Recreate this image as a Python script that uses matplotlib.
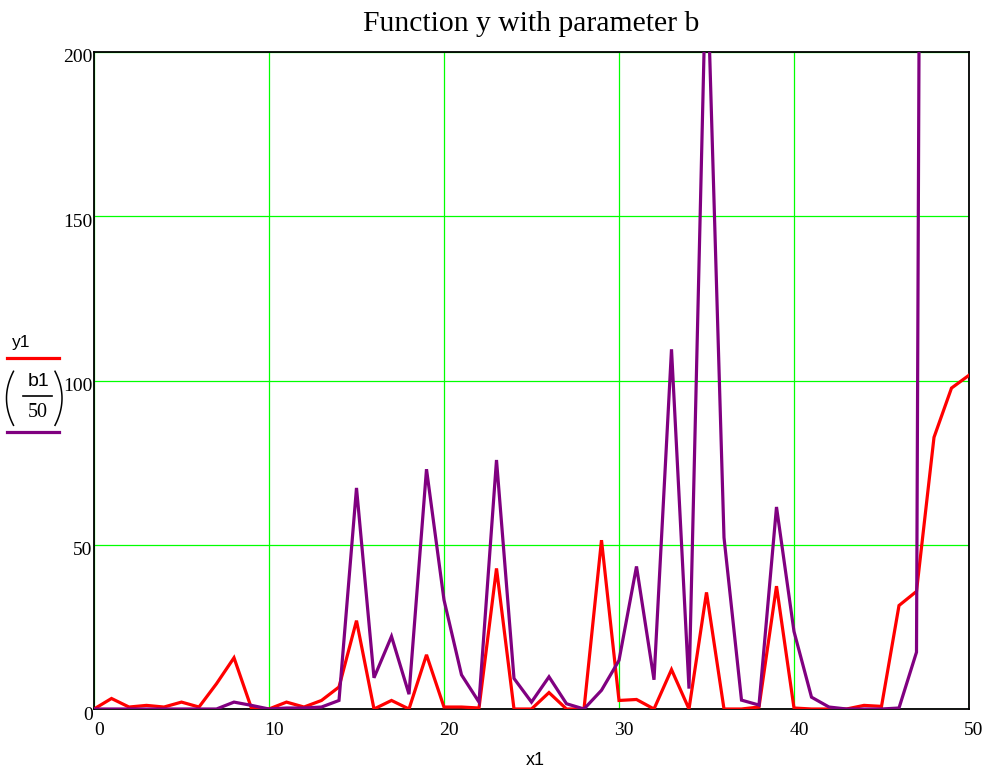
import matplotlib
matplotlib.use("Agg")
import matplotlib.pyplot as plt
from matplotlib.lines import Line2D
from matplotlib.transforms import ScaledTranslation
import numpy as np

x1 = list(range(0, 51))
y1 = [0, 3.2, 0.6, 1.1, 0.6, 2.1, 0.6, 7.7, 15.6, 0.2,
      0, 2.1, 0.6, 2.6, 6.7, 26.9, 0, 2.6, 0, 16.5,
      0.6, 0.6, 0.3, 42.8, 0, 0, 5.0, 0, 0, 51.4,
      2.6, 2.9, 0, 12.0, 0, 35.5, 0, 0, 0.6, 37.4,
      0.3, 0, 0, 0, 1.1, 0.8, 31.5, 35.8, 82.7, 97.7,
      101.6]
b1_over_50 = [0, 0, 0, 0, 0, 0, 0, 0, 2.1, 1.1,
              0, 0.3, 0.3, 0.6, 2.6, 67.3, 9.5, 22.1, 4.5, 73.0,
              33.2, 10.4, 2.1, 75.8, 9.3, 2.1, 9.8, 1.6, 0, 5.7,
              14.8, 43.4, 8.9, 109.5, 6.2, 232.0, 52.2, 2.7, 1.2, 61.5,
              23.6, 3.6, 0.6, 0, 0, 0, 0.3, 17.3, 1300.0, 1400.0,
              1500.0]
x_ticks = [0, 10, 20, 30, 40, 50]
y_ticks = [0, 50, 100, 150, 200]

W, H = 988, 773
fig = plt.figure(figsize=(W / 100, H / 100), dpi=100)
L, R, T, B = 94, 969, 52, 709
ax = fig.add_axes([L / W, (H - B) / H, (R - L) / W, (B - T) / H])

ax.plot(x1, y1, color="#ff0000", lw=2.3, solid_joinstyle="miter", zorder=3)
ax.plot(x1, b1_over_50, color="#800080", lw=2.3, solid_joinstyle="miter", zorder=4)

ax.set_xlim(0, 50)
ax.set_ylim(0, 200)
ax.set_xticks(x_ticks)
ax.set_yticks(y_ticks)
ax.set_xticklabels([str(v) for v in x_ticks], family="Liberation Serif", fontsize=14)
ax.set_yticklabels([str(v) for v in y_ticks], family="Liberation Serif", fontsize=14)
ax.tick_params(axis="x", length=0, pad=9.5)
ax.tick_params(axis="y", length=0, pad=1)

xoff = ScaledTranslation(5 / 100, 0, fig.dpi_scale_trans)
for lab in ax.get_xticklabels():
    lab.set_transform(lab.get_transform() + xoff)
yoff = ScaledTranslation(0, -4 / 100, fig.dpi_scale_trans)
for lab in ax.get_yticklabels():
    lab.set_transform(lab.get_transform() + yoff)

ax.grid(True, color="#00ff00", lw=0.9, zorder=1)
ax.set_axisbelow(True)
for s in ax.spines.values():
    s.set_color("black")
    s.set_linewidth(1.3)

ax.set_title("Function y with parameter b", family="Liberation Serif",
             fontsize=21.3, pad=15)
ax.set_xlabel("x1", family="Liberation Sans", fontsize=13)
ax.xaxis.set_label_coords((535.5 - L) / (R - L), (B - 760.5) / (B - T))
ax.xaxis.label.set_verticalalignment("center")

# Legend block on the left (figure pixel coordinates)
def fx(px):
    return px / W

def fy(py):
    return (H - py) / H

fig.text(fx(21), fy(342.5), "y1", family="Liberation Sans", fontsize=12.5,
         ha="center", va="center")
fig.add_artist(Line2D([fx(7), fx(59)], [fy(358.3), fy(358.3)],
                      transform=fig.transFigure, color="#ff0000", lw=2.3))
fig.text(fx(38.5), fy(382), "b1", family="Liberation Sans", fontsize=14,
         ha="center", va="center")
fig.add_artist(Line2D([fx(22.7), fx(51.7)], [fy(395.7), fy(395.7)],
                      transform=fig.transFigure, color="black", lw=1.2))
fig.text(fx(38), fy(412.5), "50", family="Liberation Serif", fontsize=14.5,
         ha="center", va="center")
# parentheses
t = np.linspace(-1, 1, 60)
py = 398.3 + 27.0 * t
bulge = 7.0 * (1 - t ** 2)
fig.add_artist(Line2D([fx(13.5 - b) for b in bulge], [fy(v) for v in py],
                      transform=fig.transFigure, color="black", lw=1.1))
fig.add_artist(Line2D([fx(55 + b) for b in bulge], [fy(v) for v in py],
                      transform=fig.transFigure, color="black", lw=1.1))
fig.add_artist(Line2D([fx(7), fx(59)], [fy(432.3), fy(432.3)],
                      transform=fig.transFigure, color="#800080", lw=2.3))

fig.savefig("out.png", dpi=100, facecolor="white")
